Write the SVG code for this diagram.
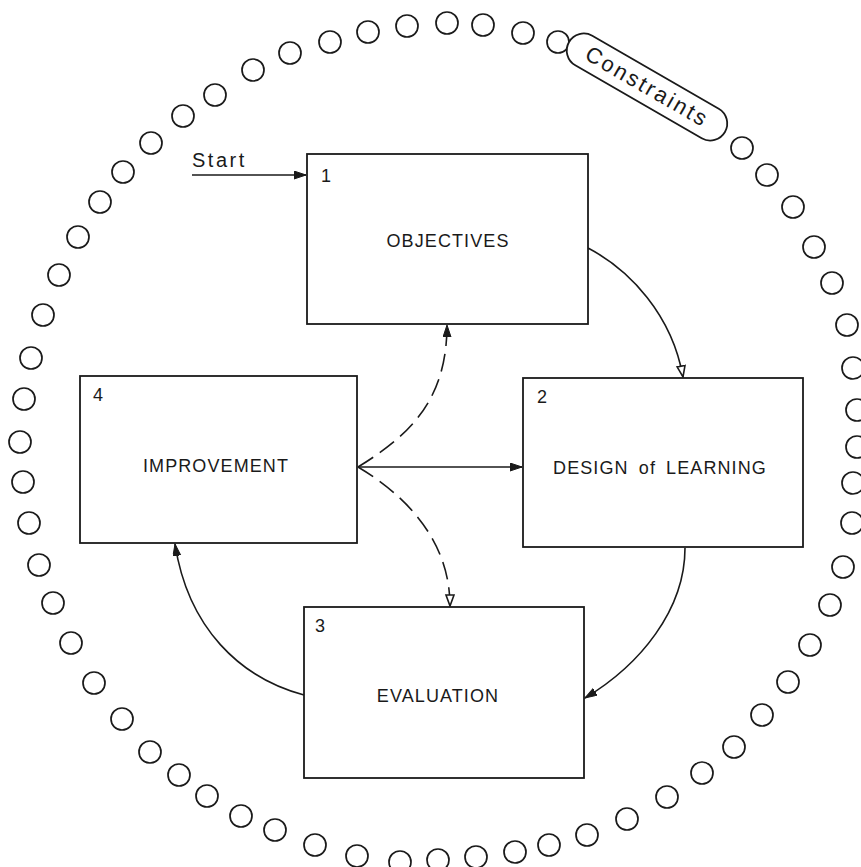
<svg xmlns="http://www.w3.org/2000/svg" width="861" height="867" viewBox="0 0 861 867">
<style>
  .box { fill: #ffffff; stroke: #1a1a1a; stroke-width: 1.8; }
  .lbl { font-family: "Liberation Sans", Arial, sans-serif; font-size: 18px; fill: #1a1a1a; letter-spacing: 1.1px; text-anchor: middle; }
  .num { font-family: "Liberation Sans", Arial, sans-serif; font-size: 18px; fill: #1a1a1a; }
  .ring circle { fill: none; stroke: #1a1a1a; stroke-width: 1.7; }
  .conn { fill: none; stroke: #1a1a1a; stroke-width: 1.6; }
  .dash { stroke-dasharray: 18 8; }
</style>
<defs>
  <marker id="ah" markerUnits="userSpaceOnUse" markerWidth="14" markerHeight="10" refX="12" refY="4" orient="auto">
    <path d="M0,0 L12,4 L0,8 Z" fill="#1a1a1a" stroke="#1a1a1a" stroke-width="1"/>
  </marker>
  <marker id="aho" markerUnits="userSpaceOnUse" markerWidth="14" markerHeight="12" refX="12" refY="5" orient="auto">
    <path d="M1,1 L12,5 L1,9 Z" fill="#ffffff" stroke="#1a1a1a" stroke-width="1.6"/>
  </marker>
</defs>
<rect width="861" height="867" fill="#ffffff"/>

<g id="constraint-ring" class="ring">
  <circle cx="151" cy="143" r="11"/>
  <circle cx="183" cy="116" r="11"/>
  <circle cx="215" cy="95" r="11"/>
  <circle cx="253" cy="70" r="11"/>
  <circle cx="290" cy="53" r="11"/>
  <circle cx="330" cy="42" r="11"/>
  <circle cx="368" cy="32" r="11"/>
  <circle cx="407" cy="26" r="11"/>
  <circle cx="447" cy="23" r="11"/>
  <circle cx="483" cy="25" r="11"/>
  <circle cx="523" cy="33" r="11"/>
  <circle cx="558" cy="42" r="11"/>
  <circle cx="742" cy="148" r="11"/>
  <circle cx="767" cy="175" r="11"/>
  <circle cx="793" cy="207" r="11"/>
  <circle cx="814" cy="247" r="11"/>
  <circle cx="832" cy="283" r="11"/>
  <circle cx="847" cy="325" r="11"/>
  <circle cx="853" cy="368" r="11"/>
  <circle cx="857" cy="410" r="11"/>
  <circle cx="857" cy="447" r="11"/>
  <circle cx="853" cy="483" r="11"/>
  <circle cx="852" cy="523" r="11"/>
  <circle cx="843" cy="567" r="11"/>
  <circle cx="830" cy="605" r="11"/>
  <circle cx="810" cy="645" r="11"/>
  <circle cx="788" cy="682" r="11"/>
  <circle cx="762" cy="715" r="11"/>
  <circle cx="734" cy="747" r="11"/>
  <circle cx="702" cy="773" r="11"/>
  <circle cx="667" cy="797" r="11"/>
  <circle cx="627" cy="819" r="11"/>
  <circle cx="587" cy="835" r="11"/>
  <circle cx="549" cy="845" r="11"/>
  <circle cx="515" cy="852" r="11"/>
  <circle cx="476" cy="857" r="11"/>
  <circle cx="438" cy="860" r="11"/>
  <circle cx="400" cy="862" r="11"/>
  <circle cx="357" cy="856" r="11"/>
  <circle cx="315" cy="845" r="11"/>
  <circle cx="275" cy="830" r="11"/>
  <circle cx="241" cy="816" r="11"/>
  <circle cx="207" cy="796" r="11"/>
  <circle cx="179" cy="775" r="11"/>
  <circle cx="150" cy="752" r="11"/>
  <circle cx="122" cy="719" r="11"/>
  <circle cx="94" cy="683" r="11"/>
  <circle cx="71" cy="643" r="11"/>
  <circle cx="53" cy="603" r="11"/>
  <circle cx="39" cy="565" r="11"/>
  <circle cx="29" cy="523" r="11"/>
  <circle cx="23" cy="482" r="11"/>
  <circle cx="20" cy="442" r="11"/>
  <circle cx="24" cy="399" r="11"/>
  <circle cx="31" cy="358" r="11"/>
  <circle cx="43" cy="315" r="11"/>
  <circle cx="59" cy="275" r="11"/>
  <circle cx="78" cy="237" r="11"/>
  <circle cx="100" cy="202" r="11"/>
  <circle cx="123" cy="172" r="11"/>
</g>

<g id="constraints-label" transform="translate(647,87) rotate(30)">
  <rect x="-90" y="-17" width="180" height="34" rx="17" ry="17" fill="#ffffff" stroke="#1a1a1a" stroke-width="1.8"/>
  <text x="0" y="7" font-family="'Liberation Sans', Arial, sans-serif" font-size="22" letter-spacing="2.5" text-anchor="middle" fill="#1a1a1a">Constraints</text>
</g>

<g id="connectors">
  <path class="conn" d="M192,175 L306,175" marker-end="url(#ah)"/>
  <path class="conn" d="M588,248 C630,270 672,315 683,377" marker-end="url(#aho)"/>
  <path class="conn" d="M685,548 C685,610 640,665 585,698" marker-end="url(#ah)"/>
  <path class="conn" d="M304,695 C240,678 188,628 175,544" marker-end="url(#ah)"/>
  <path class="conn dash" d="M358,467 C410,435 447,400 447,325" marker-end="url(#ah)"/>
  <path class="conn" d="M358,467 L522,467" marker-end="url(#ah)"/>
  <path class="conn dash" d="M358,467 C405,495 450,540 450,606" marker-end="url(#aho)"/>
  <text x="192" y="167" font-family="'Liberation Sans', Arial, sans-serif" font-size="20" letter-spacing="2.5" fill="#1a1a1a">Start</text>
</g>

<g id="node-1">
  <rect class="box" x="307" y="154" width="281" height="170"/>
  <text class="num" x="321" y="182">1</text>
  <text class="lbl" x="448" y="247">OBJECTIVES</text>
</g>
<g id="node-2">
  <rect class="box" x="523" y="378" width="280" height="169"/>
  <text class="num" x="537" y="403">2</text>
  <text class="lbl" x="660" y="474" word-spacing="4">DESIGN of LEARNING</text>
</g>
<g id="node-3">
  <rect class="box" x="304" y="607" width="280" height="171"/>
  <text class="num" x="315" y="632">3</text>
  <text class="lbl" x="438" y="702">EVALUATION</text>
</g>
<g id="node-4">
  <rect class="box" x="80" y="376" width="277" height="167"/>
  <text class="num" x="93" y="401">4</text>
  <text class="lbl" x="216" y="472">IMPROVEMENT</text>
</g>
</svg>
